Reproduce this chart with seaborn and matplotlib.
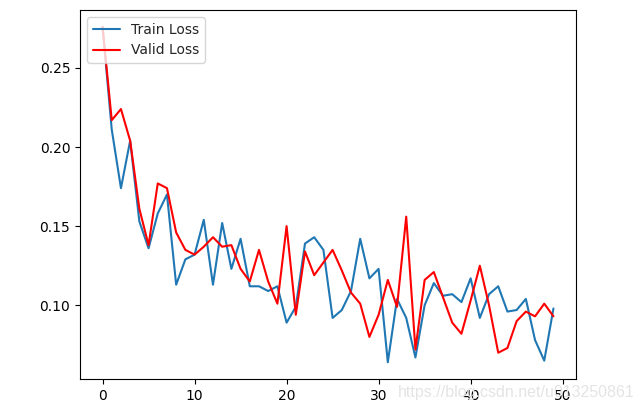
import matplotlib
matplotlib.use("Agg")
import matplotlib.pyplot as plt
import seaborn as sns
import pandas as pd

epochs = list(range(50))
train_loss = [0.276, 0.211, 0.174, 0.204, 0.153, 0.136, 0.158, 0.170, 0.113, 0.129,
              0.132, 0.154, 0.113, 0.152, 0.123, 0.142, 0.112, 0.112, 0.109, 0.112,
              0.089, 0.099, 0.139, 0.143, 0.135, 0.092, 0.097, 0.109, 0.142, 0.117,
              0.123, 0.064, 0.104, 0.092, 0.067, 0.100, 0.114, 0.106, 0.107, 0.102,
              0.117, 0.092, 0.107, 0.112, 0.096, 0.097, 0.104, 0.078, 0.065, 0.098]
valid_loss = [0.276, 0.217, 0.224, 0.204, 0.161, 0.138, 0.177, 0.174, 0.146, 0.135,
              0.132, 0.137, 0.143, 0.137, 0.138, 0.123, 0.115, 0.135, 0.115, 0.101,
              0.150, 0.094, 0.134, 0.119, 0.127, 0.135, 0.122, 0.108, 0.101, 0.080,
              0.094, 0.116, 0.099, 0.156, 0.072, 0.116, 0.121, 0.105, 0.089, 0.082,
              0.103, 0.125, 0.100, 0.070, 0.073, 0.090, 0.096, 0.093, 0.101, 0.093]
labels = ["Train Loss", "Valid Loss"]
watermark = "https://blog.csdn.net/u013250861"

sns.set_style("ticks")
plt.rcParams['font.family'] = ['DejaVu Sans']

fig = plt.figure(figsize=(6.4, 4.11), dpi=100)
ax = fig.add_axes([0.125, 1 - 379 / 411, 0.775, 369 / 411])

sns.lineplot(x=epochs, y=train_loss, ax=ax, color="#1f77b4", label=labels[0], linewidth=1.5)
sns.lineplot(x=epochs, y=valid_loss, ax=ax, color="red", label=labels[1], linewidth=1.5)

ax.set_xticks([0, 10, 20, 30, 40, 50])
ax.set_yticks([0.10, 0.15, 0.20, 0.25])
ax.set_yticklabels(["0.10", "0.15", "0.20", "0.25"])
for s in ax.spines.values():
    s.set_visible(True)
    s.set_color("black")
    s.set_linewidth(0.8)
ax.tick_params(direction="out", length=3.5, width=0.8, labelsize=10, colors="black")
ax.legend(loc="upper left", fontsize=10, frameon=True)

fig.text(0.622, 0.045, watermark, color="#e4e4e4", fontsize=11.5,
         family=["Liberation Sans", "DejaVu Sans"], va="center")

fig.savefig("out.png", dpi=100)
